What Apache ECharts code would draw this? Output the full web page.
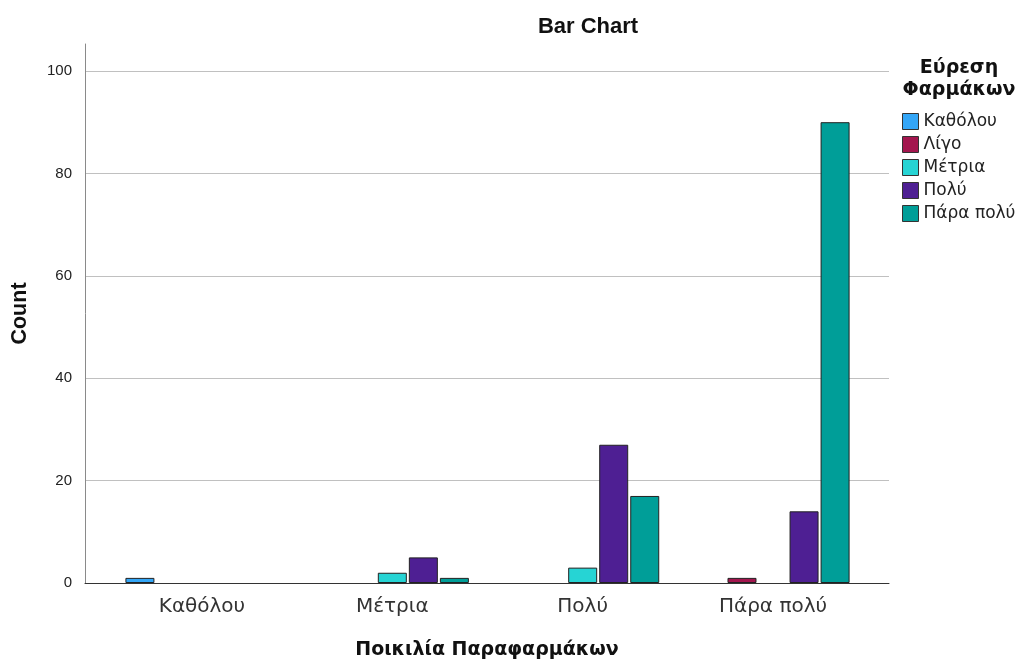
<!DOCTYPE html>
<html>
<head>
<meta charset="utf-8">
<script src="https://cdn.jsdelivr.net/npm/echarts@6/dist/echarts.min.js"></script>
<style>
  html, body { margin: 0; padding: 0; background: #fff; }
  #chart { width: 1023px; height: 659px; }
</style>
</head>
<body>
<div id="chart"></div>
<script>
// Categories on the x axis (Ποικιλία Παραφαρμάκων)
const categories = ['Καθόλου', 'Μέτρια', 'Πολύ', 'Πάρα πολύ'];
// Legend groups (Εύρεση Φαρμάκων)
const groupNames = ['Καθόλου', 'Λίγο', 'Μέτρια', 'Πολύ', 'Πάρα πολύ'];
const groupColors = ['#33A6F7', '#A3164E', '#26D4D4', '#4E1F93', '#009E98'];
// Counts per category for each group (null = no cases)
const countKatholou = [1, null, null, null];
const countLigo = [null, null, null, 1];
const countMetria = [null, 2, 3, null];
const countPoly = [null, 5, 27, 14];
const countParaPoly = [null, 1, 17, 90];
const yTicks = [0, 20, 40, 60, 80, 100];

const groupCounts = [countKatholou, countLigo, countMetria, countPoly, countParaPoly];
const FONT = 'Liberation Sans, Arial, sans-serif';
const WIDE = 'DejaVu Sans, Verdana, sans-serif';

const chart = echarts.init(document.getElementById('chart'));

const series = groupNames.map((name, i) => ({
  name: name,
  type: 'bar',
  xAxisIndex: 2,
  yAxisIndex: 2,
  data: groupCounts[i],
  barWidth: 29,
  barGap: '7%',
  itemStyle: { color: groupColors[i], borderColor: '#222', borderWidth: 1 },
  emphasis: { disabled: true }
}));

const gridBase = { outerBoundsMode: 'none', containLabel: false };

chart.setOption({
  animation: false,
  backgroundColor: '#fff',
  textStyle: { fontFamily: FONT },
  title: [
    {
      text: 'Bar Chart',
      left: 583, top: 11, textAlign: 'center',
      textStyle: { fontFamily: FONT, fontSize: 22, fontWeight: 'bold', color: '#111' }
    },
    {
      text: 'Εύρεση\nΦαρμάκων',
      left: 954, top: 52, textAlign: 'center',
      textStyle: { fontFamily: WIDE, fontSize: 19, fontWeight: 'bold', color: '#111', lineHeight: 22 }
    }
  ],
  legend: {
    orient: 'vertical',
    left: 897, top: 108,
    itemWidth: 16, itemHeight: 16, itemGap: 6,
    icon: 'rect',
    selectedMode: false,
    itemStyle: { borderColor: '#333', borderWidth: 1 },
    textStyle: { fontFamily: WIDE, fontSize: 17, color: '#222', lineHeight: 17 },
    data: groupNames
  },
  grid: [
    // frame: axis lines
    Object.assign({ left: 85, right: 134, top: 44, bottom: 76 }, gridBase),
    // value scale with grid lines and tick labels
    Object.assign({ left: 85, right: 134, top: 71, bottom: 76 }, gridBase),
    // bars
    Object.assign({ left: 106.8, right: 154.8, top: 71, bottom: 76 }, gridBase)
  ],
  xAxis: [
    {
      gridIndex: 0, type: 'value', min: 0, max: 1,
      axisLine: { show: true, onZero: false, lineStyle: { color: '#333', width: 1 } },
      axisTick: { show: false }, axisLabel: { show: false }, splitLine: { show: false },
      name: 'Ποικιλία Παραφαρμάκων', nameLocation: 'middle', nameGap: 58,
      nameTextStyle: { fontFamily: WIDE, fontSize: 19, fontWeight: 'bold', color: '#111' }
    },
    {
      gridIndex: 1, type: 'value', min: 0, max: 1, show: false
    },
    {
      gridIndex: 2, type: 'category', data: categories,
      axisLine: { show: false }, axisTick: { show: false },
      axisLabel: { fontFamily: WIDE, fontSize: 20, color: '#333', margin: 14 }
    }
  ],
  yAxis: [
    {
      gridIndex: 0, type: 'value', min: 0, max: 105.3,
      axisLine: { show: true, onZero: false, lineStyle: { color: '#8a8a8a', width: 1 } },
      axisTick: { show: false }, axisLabel: { show: false }, splitLine: { show: false },
      name: 'Count', nameLocation: 'middle', nameGap: 54,
      nameTextStyle: { fontFamily: FONT, fontSize: 21.5, fontWeight: 'bold', color: '#111' }
    },
    {
      gridIndex: 1, type: 'value', min: yTicks[0], max: yTicks[yTicks.length - 1], interval: 20,
      axisLine: { show: false }, axisTick: { show: false },
      axisLabel: { fontFamily: FONT, fontSize: 15, color: '#222', margin: 13 },
      splitLine: { show: true, lineStyle: { color: '#c0c0c0', width: 1 } }
    },
    {
      gridIndex: 2, type: 'value', min: yTicks[0], max: yTicks[yTicks.length - 1], show: false
    }
  ],
  series: series
});
</script>
</body>
</html>
